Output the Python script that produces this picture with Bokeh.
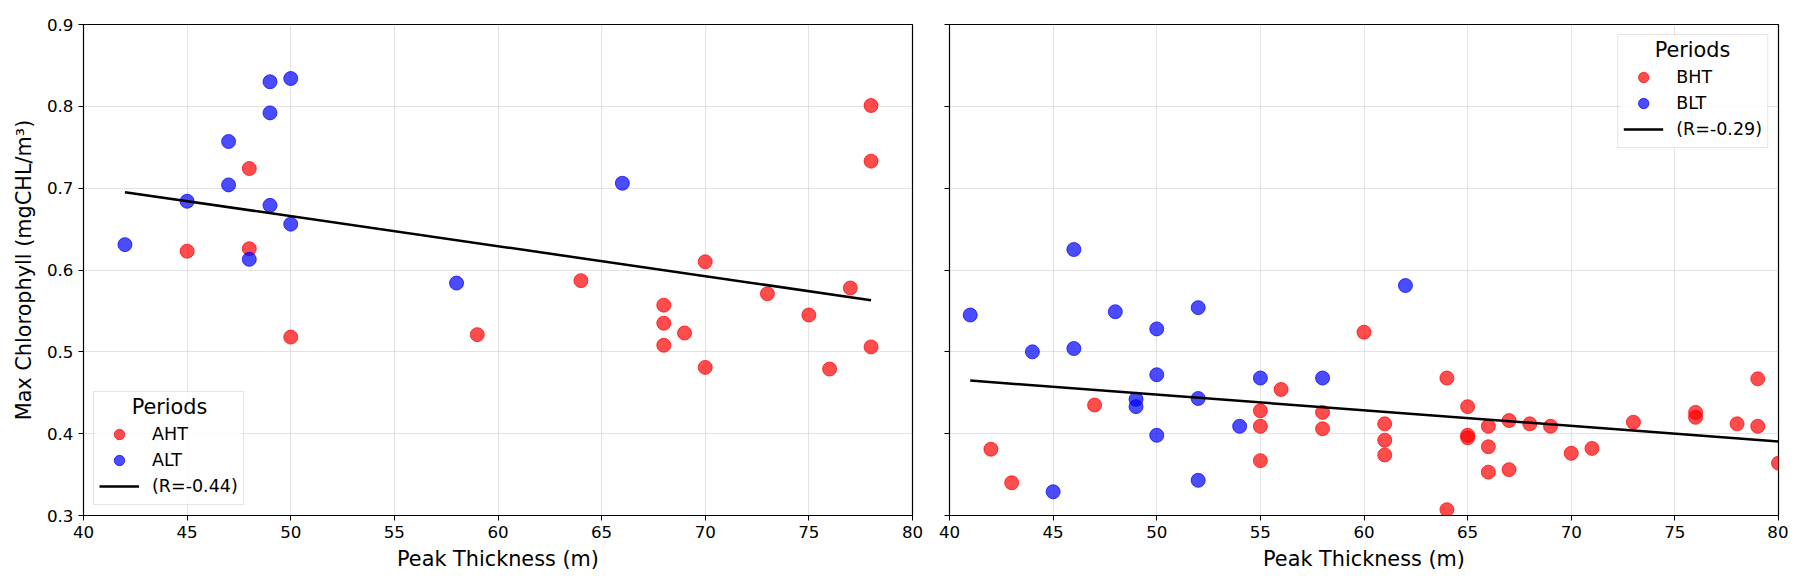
import numpy as np
from bokeh.plotting import figure
from bokeh.layouts import row
from bokeh.models import Range1d, FixedTicker, Legend, LegendItem, Label, BoxAnnotation
from bokeh.embed import file_html
from bokeh.resources import INLINE

# ---- data: left panel (A periods) ----
aht_x = [45, 48, 48, 50, 59, 64, 68, 68, 68, 69, 70, 70, 73, 75, 76, 77, 78, 78, 78]
aht_y = [0.623, 0.724, 0.626, 0.518, 0.521, 0.587, 0.557, 0.535, 0.508, 0.523, 0.610,
         0.481, 0.571, 0.545, 0.479, 0.578, 0.801, 0.733, 0.506]
alt_x = [42, 45, 47, 47, 48, 49, 49, 49, 50, 50, 58, 66]
alt_y = [0.631, 0.684, 0.757, 0.704, 0.613, 0.830, 0.792, 0.679, 0.834, 0.656, 0.584, 0.706]

# ---- data: right panel (B periods) ----
bht_x = [42, 43, 47, 55, 55, 55, 56, 58, 58, 60, 61, 61, 61, 64, 64, 65, 65, 65,
         66, 66, 66, 67, 67, 68, 69, 70, 71, 73, 76, 76, 78, 79, 79, 80]
bht_y = [0.381, 0.340, 0.435, 0.428, 0.409, 0.367, 0.454, 0.426, 0.406, 0.524, 0.412,
         0.392, 0.374, 0.468, 0.307, 0.433, 0.398, 0.395, 0.409, 0.384, 0.353, 0.416,
         0.356, 0.412, 0.409, 0.376, 0.382, 0.414, 0.426, 0.420, 0.412, 0.467, 0.409, 0.364]
blt_x = [41, 44, 45, 46, 46, 48, 49, 49, 50, 50, 50, 52, 52, 52, 54, 55, 58, 62]
blt_y = [0.545, 0.500, 0.329, 0.504, 0.625, 0.549, 0.442, 0.433, 0.528, 0.472, 0.398,
         0.554, 0.443, 0.343, 0.409, 0.468, 0.468, 0.581]

left_labels = ["AHT", "ALT", "(R=-0.44)"]
right_labels = ["BHT", "BLT", "(R=-0.29)"]
legend_title = "Periods"
x_ticks = [40, 45, 50, 55, 60, 65, 70, 75, 80]
y_ticks = [0.3, 0.4, 0.5, 0.6, 0.7, 0.8, 0.9]

FONT = "DejaVu Sans"
RED = "#ff0000"
BLUE = "#0000ff"

# frame geometry (px) used to place the legend backdrop
FRAME_W, FRAME_H = 829, 491
XMIN, XMAX, YMIN, YMAX = 40, 80, 0.3, 0.9
DX = (XMAX - XMIN) / FRAME_W
DY = (YMAX - YMIN) / FRAME_H
LEG_M, LEG_W, LEG_H = 10, 149, 115


def make_panel(hx, hy, lx, ly, labels, first):
    if first:
        p = figure(width=928, height=581, min_border_left=83, min_border_right=16,
                   min_border_top=24, min_border_bottom=66,
                   x_range=Range1d(XMIN, XMAX), y_range=Range1d(YMIN, YMAX),
                   output_backend="svg", toolbar_location=None)
    else:
        p = figure(width=860, height=581, min_border_left=21, min_border_right=10,
                   min_border_top=24, min_border_bottom=66,
                   x_range=Range1d(XMIN, XMAX), y_range=Range1d(YMIN, YMAX),
                   output_backend="svg", toolbar_location=None)
    p.background_fill_color = "white"
    p.border_fill_color = "white"
    p.outline_line_color = "black"
    p.outline_line_width = 1.2
    p.outline_line_alpha = 1.0

    p.xaxis.ticker = FixedTicker(ticks=x_ticks)
    p.yaxis.ticker = FixedTicker(ticks=y_ticks)
    for ax in (p.xaxis, p.yaxis):
        ax.major_tick_in = 0
        ax.major_tick_out = 5
        ax.minor_tick_line_color = None
        ax.axis_line_color = "black"
        ax.major_tick_line_color = "black"
        ax.major_label_text_font = FONT
        ax.major_label_text_font_size = "16.7px"
        ax.major_label_text_color = "black"
        ax.axis_label_text_font = FONT
        ax.axis_label_text_font_size = "20.8px"
        ax.axis_label_text_font_style = "normal"
        ax.axis_label_text_color = "black"
    p.xaxis.axis_label = "Peak Thickness (m)"
    p.xaxis.axis_label_standoff = 6
    if first:
        p.yaxis.axis_label = "Max Chlorophyll (mgCHL/m³)"
        p.yaxis.axis_label_standoff = 8
    else:
        p.yaxis.major_label_overrides = {t: "" for t in y_ticks}

    p.grid.grid_line_color = "#b0b0b0"
    p.grid.grid_line_alpha = 0.35
    p.grid.grid_line_width = 1
    p.xgrid.ticker = FixedTicker(ticks=x_ticks)
    p.ygrid.ticker = FixedTicker(ticks=y_ticks)

    r_h = p.scatter(hx, hy, size=14, fill_color=RED, fill_alpha=0.7,
                    line_color=RED, line_alpha=0.7, line_width=1)
    r_l = p.scatter(lx, ly, size=14, fill_color=BLUE, fill_alpha=0.7,
                    line_color=BLUE, line_alpha=0.7, line_width=1)

    all_x = np.array(list(hx) + list(lx), dtype=float)
    all_y = np.array(list(hy) + list(ly), dtype=float)
    slope, icpt = np.polyfit(all_x, all_y, 1)
    fx = np.array([all_x.min(), all_x.max()])
    r_fit = p.line(fx, slope * fx + icpt, line_color="black", line_width=2.5)

    # white backdrop behind the legend (legend itself is transparent so the
    # centred title label can sit on top of it)
    if first:
        box = BoxAnnotation(left=XMIN + (LEG_M + 1) * DX, right=XMIN + (LEG_M + LEG_W - 1) * DX,
                            bottom=YMIN + (LEG_M + 1) * DY, top=YMIN + (LEG_M + LEG_H - 1) * DY,
                            fill_color="white", fill_alpha=0.8, line_color=None)
    else:
        box = BoxAnnotation(left=XMAX - (LEG_M + LEG_W - 1) * DX, right=XMAX - (LEG_M + 1) * DX,
                            bottom=YMAX - (LEG_M + LEG_H - 1) * DY, top=YMAX - (LEG_M + 1) * DY,
                            fill_color="white", fill_alpha=0.8, line_color=None)
    p.add_layout(box)

    legend = Legend(items=[LegendItem(label=labels[0], renderers=[r_h]),
                           LegendItem(label=labels[1], renderers=[r_l]),
                           LegendItem(label=labels[2], renderers=[r_fit])],
                    location="bottom_left" if first else "top_right",
                    title="\u00a0")
    legend.title_text_font = FONT
    legend.title_text_font_size = "20.8px"
    legend.title_standoff = 0
    legend.label_text_font = FONT
    legend.label_text_font_size = "17.5px"
    legend.label_text_color = "black"
    legend.glyph_width = 40
    legend.glyph_height = 26
    legend.label_height = 26
    legend.spacing = 0
    legend.padding = 5
    legend.label_standoff = 13
    legend.margin = LEG_M
    legend.border_line_color = "#cccccc"
    legend.border_line_width = 1
    legend.background_fill_alpha = 0.0
    p.add_layout(legend, "center")

    if first:
        title = Label(x=XMIN, y=YMIN, x_offset=86, y_offset=109, text=legend_title,
                      text_align="center", text_baseline="middle")
    else:
        title = Label(x=XMAX, y=YMAX, x_offset=-86, y_offset=-25, text=legend_title,
                      text_align="center", text_baseline="middle")
    title.text_font = FONT
    title.text_font_size = "20.8px"
    title.text_color = "black"
    p.add_layout(title)
    return p


p1 = make_panel(aht_x, aht_y, alt_x, alt_y, left_labels, True)
p2 = make_panel(bht_x, bht_y, blt_x, blt_y, right_labels, False)

layout = row(p1, p2)
open("out.html", "w").write(file_html(layout, INLINE))
